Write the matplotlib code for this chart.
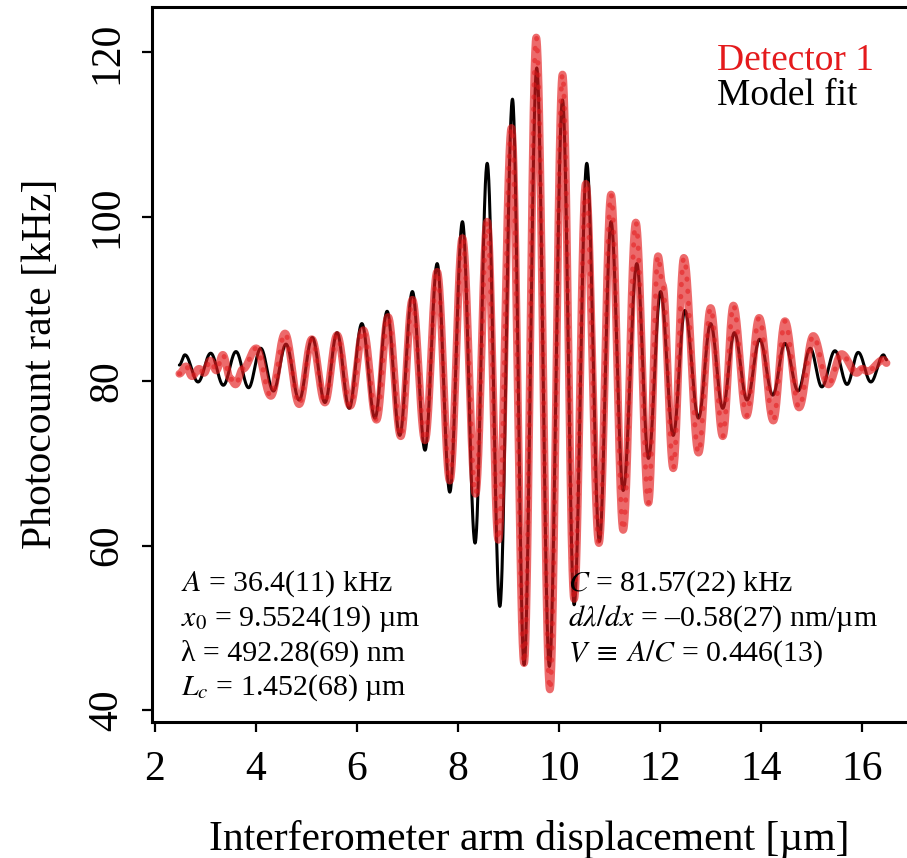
import numpy as np
import matplotlib
matplotlib.use('Agg')
from matplotlib import pyplot as plt

plt.rcParams['font.family'] = ['Liberation Serif', 'DejaVu Serif']
plt.rcParams['mathtext.fontset'] = 'stix'

# turning points of the fitted fringe pattern (x in um, rate in kHz)
fit_x = [2.49, 2.60, 2.86, 3.11, 3.36, 3.61, 3.86, 4.10, 4.35, 4.60, 4.86,
         5.12, 5.37, 5.61, 5.85, 6.10, 6.36, 6.60, 6.85, 7.10, 7.35, 7.59,
         7.84, 8.09, 8.34, 8.58, 8.83, 9.08, 9.31, 9.56, 9.81, 10.07, 10.30,
         10.55, 10.80, 11.03, 11.27, 11.54, 11.77, 12.01, 12.26, 12.49,
         12.76, 13.00, 13.24, 13.47, 13.72, 13.97, 14.23, 14.47, 14.73,
         14.97, 15.20, 15.46, 15.70, 15.92, 16.17, 16.42, 16.48]
fit_y = [81.96, 83.2, 79.9, 83.4, 79.5, 83.6, 79.2, 84.0, 78.8, 84.5, 77.7,
         85.3, 77.4, 85.9, 76.7, 87.0, 75.5, 88.5, 73.4, 90.9, 71.6, 94.3,
         66.5, 99.4, 60.3, 106.5, 52.6, 114.3, 45.5, 118.1, 45.3, 114.2, 52.8,
         106.5, 60.5, 99.4, 66.7, 94.3, 70.6, 90.9, 73.4, 88.6,
         75.5, 87.0, 76.7, 85.9, 77.7, 85.1, 78.3, 84.6, 78.8,
         84.0, 79.3, 83.7, 79.6, 83.5, 79.9, 83.2, 82.6]

# turning points of the detector 1 count rate
det_x = [2.49, 2.62, 2.74, 2.88, 2.98, 3.10, 3.22, 3.35, 3.50, 3.60, 3.75,
         4.01, 4.30, 4.58, 4.86, 5.11, 5.37, 5.61, 5.87, 6.13, 6.39, 6.62,
         6.87, 7.10, 7.35, 7.59, 7.84, 8.09, 8.35, 8.58, 8.80, 9.06, 9.31,
         9.55, 9.82, 10.07, 10.30, 10.53, 10.79, 11.03, 11.27, 11.52, 11.77,
         11.96, 12.05, 12.26, 12.47, 12.76, 13.00, 13.24, 13.45, 13.71,
         13.96, 14.24, 14.47, 14.75, 15.03, 15.33, 15.59, 15.89, 16.00,
         16.10, 16.42, 16.48]
det_y = [80.9, 81.8, 80.6, 81.5, 81.0, 82.5, 81.3, 83.2, 80.3, 79.6, 81.5,
         84.0, 78.2, 85.8, 77.2, 85.1, 77.4, 85.6, 77.0, 86.2, 75.3, 87.8,
         73.3, 89.9, 72.8, 93.3, 67.9, 97.4, 66.3, 99.4, 60.7, 110.8, 45.7,
         121.8, 42.5, 117.3, 53.5, 104.0, 60.3, 102.7, 61.9, 99.3, 65.2,
         95.2, 91.7, 69.4, 95.0, 71.3, 88.9, 73.3, 89.2, 75.8,
         87.7, 75.2, 87.3, 76.8, 85.5, 79.6, 83.3, 81.0, 81.5,
         81.2, 82.6, 82.2]

fit_text = ['$A$ = 36.4(11) kHz', '$x_0$ = 9.5524(19) µm',
            'λ = 492.28(69) nm', '$L_c$ = 1.452(68) µm']
fit_text2 = ['$C$ = 81.57(22) kHz', '$d\\lambda/dx$ = –0.58(27) nm/µm',
             '$V\\;\\equiv\\;A/C$ = 0.446(13)']


def fringe(xs, ys, n=40):
    # half-cosine segments between consecutive turning points
    px, py = [], []
    for i in range(len(xs) - 1):
        t = np.linspace(0, 1, n, endpoint=False)
        px.append(xs[i] + t * (xs[i+1] - xs[i]))
        py.append(ys[i] + (ys[i+1] - ys[i]) * (1 - np.cos(np.pi * t)) / 2)
    px.append([xs[-1]])
    py.append([ys[-1]])
    return np.concatenate(px), np.concatenate(py)


fig = plt.figure(figsize=(9.07, 8.58), dpi=100)
ax = fig.add_axes([0.1681, 0.1589, 0.8319, 0.8333])

fx, fy = fringe(fit_x, fit_y)
dx, dy = fringe(det_x, det_y)

ax.plot(fx, fy, color='k', lw=2.2, zorder=2, solid_capstyle='round')
ax.plot(dx, dy, color='#e31a1c', lw=5.6, alpha=0.65, zorder=3,
        solid_capstyle='round', solid_joinstyle='round')
ax.plot(dx, dy, color='#e31a1c', lw=3.5, alpha=0.55, zorder=4,
        linestyle=(0, (0.1, 2.4)), dash_capstyle='round')

ax.set_xlim(1.958, 16.885)
ax.set_ylim(38.58, 125.55)
ax.set_xticks(np.arange(2, 17, 2))
ax.set_yticks(np.arange(40, 121, 20))

for s in ['left', 'bottom', 'top']:
    ax.spines[s].set_linewidth(2.2)
ax.spines['right'].set_visible(False)
ax.tick_params(direction='out', length=7, width=1.6, labelsize=30)
ax.tick_params(axis='x', pad=14)
ax.tick_params(axis='y', pad=12, labelrotation=90)
for lab in ax.get_yticklabels():
    lab.set_verticalalignment('center')

ax.set_xlabel('Interferometer arm displacement [µm]', fontsize=30,
              labelpad=22)
ax.set_ylabel('Photocount rate [kHz]', fontsize=30, labelpad=20)

fig.text(0.790, 0.9184, 'Detector 1', color='#e41a1c', fontsize=27,
         va='baseline')
fig.text(0.790, 0.8776, 'Model fit', color='k', fontsize=27, va='baseline')

for i, s in enumerate(fit_text):
    fig.text(0.1992, 0.3115 - i * 0.0405, s, fontsize=21.5, va='baseline')
for i, s in enumerate(fit_text2):
    fig.text(0.6266, 0.3115 - i * 0.0405, s, fontsize=21.5, va='baseline')

fig.savefig('out.png', dpi=100)
